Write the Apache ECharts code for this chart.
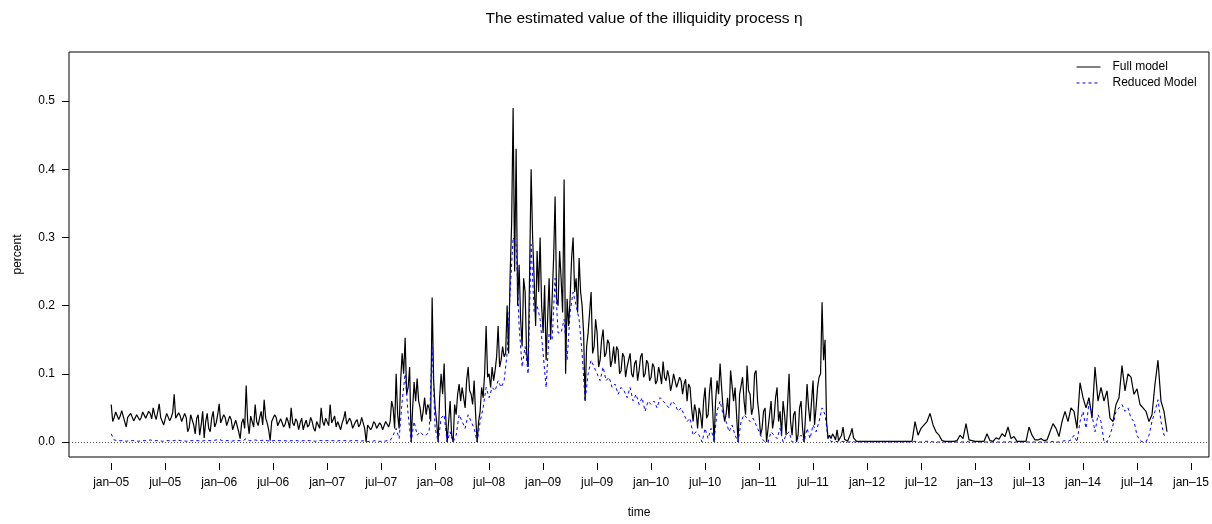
<!DOCTYPE html>
<html>
<head>
<meta charset="utf-8">
<script src="https://cdn.jsdelivr.net/npm/echarts@6/dist/echarts.min.js"></script>
<style>
html, body { margin: 0; padding: 0; background: #fff; }
#main { width: 1212px; height: 524px; }
</style>
</head>
<body>
<div id="main"></div>
<script>
// x ticks: months since jan-05
const xTickMonths = [0, 6, 12, 18, 24, 30, 36, 42, 48, 54, 60, 66, 72, 78, 84, 90, 96, 102, 108, 114, 120];
const xTickLabels = ['jan–05', 'jul–05', 'jan–06', 'jul–06', 'jan–07', 'jul–07', 'jan–08', 'jul–08', 'jan–09', 'jul–09',
  'jan–10', 'jul–10', 'jan–11', 'jul–11', 'jan–12', 'jul–12', 'jan–13', 'jul–13', 'jan–14', 'jul–14', 'jan–15'];
const yTicks = [0, 0.1, 0.2, 0.3, 0.4, 0.5];

// full model, jan-05 .. dec-11, six values a month
const fullEarly = [
  // 2005
  0.055, 0.030, 0.036, 0.044, 0.042, 0.033,  0.038, 0.046, 0.045, 0.030, 0.022, 0.036,  0.035, 0.042, 0.040, 0.031, 0.033, 0.040,
  0.041, 0.032, 0.036, 0.044, 0.045, 0.035,  0.037, 0.045, 0.042, 0.034, 0.050, 0.040,  0.033, 0.044, 0.056, 0.036, 0.038, 0.025,
  0.034, 0.042, 0.040, 0.031, 0.036, 0.043,  0.070, 0.035, 0.034, 0.043, 0.038, 0.030,  0.030, 0.042, 0.036, 0.015, 0.021, 0.040,
  0.038, 0.025, 0.012, 0.035, 0.040, 0.010,  0.025, 0.045, 0.006, 0.030, 0.042, 0.020,  0.015, 0.035, 0.045, 0.022, 0.028, 0.040,
  // 2006
  0.056, 0.028, 0.030, 0.040, 0.036, 0.024,  0.025, 0.038, 0.033, 0.018, 0.020, 0.032,  0.030, 0.015, 0.005, 0.028, 0.034, 0.020,
  0.083, 0.030, 0.012, 0.038, 0.030, 0.022,  0.055, 0.030, 0.024, 0.036, 0.045, 0.025,  0.062, 0.035, 0.028, 0.018, 0.002, 0.030,
  0.030, 0.040, 0.036, 0.024, 0.022, 0.034,  0.034, 0.022, 0.026, 0.036, 0.030, 0.020,  0.050, 0.028, 0.024, 0.034, 0.030, 0.018,
  0.028, 0.035, 0.018, 0.026, 0.032, 0.022,  0.025, 0.036, 0.030, 0.020, 0.016, 0.030,  0.028, 0.020, 0.050, 0.030, 0.024, 0.035,
  // 2007
  0.034, 0.024, 0.055, 0.028, 0.030, 0.038,  0.022, 0.030, 0.032, 0.018, 0.028, 0.034,  0.045, 0.026, 0.024, 0.035, 0.030, 0.020,
  0.020, 0.030, 0.033, 0.022, 0.026, 0.036,  0.038, 0.020, 0.000, 0.025, 0.024, 0.018,  0.022, 0.030, 0.027, 0.020, 0.018, 0.028,
  0.025, 0.018, 0.020, 0.030, 0.028, 0.022,  0.030, 0.060, 0.050, 0.020, 0.100, 0.040,  0.020, 0.090, 0.130, 0.100, 0.153, 0.070,
  0.080, 0.110, 0.000, 0.050, 0.088, 0.060,  0.093, 0.060, 0.050, 0.030, 0.045, 0.065,  0.040, 0.055, 0.050, 0.030, 0.212, 0.090,
  // 2008
  0.050, 0.030, 0.000, 0.065, 0.100, 0.070,  0.115, 0.040, 0.000, 0.030, 0.060, 0.010,  0.000, 0.055, 0.040, 0.070, 0.085, 0.060,
  0.080, 0.065, 0.050, 0.090, 0.110, 0.075,  0.070, 0.055, 0.090, 0.040, 0.000, 0.030,  0.045, 0.080, 0.065, 0.100, 0.170, 0.095,
  0.100, 0.080, 0.110, 0.090, 0.105, 0.125,  0.170, 0.110, 0.120, 0.140, 0.125, 0.130,  0.200, 0.130, 0.245, 0.320, 0.490, 0.250,
  0.430, 0.200, 0.260, 0.180, 0.140, 0.240,  0.220, 0.130, 0.110, 0.250, 0.400, 0.300,  0.240, 0.170, 0.280, 0.220, 0.300, 0.200,
  // 2009
  0.160, 0.230, 0.120, 0.180, 0.240, 0.150,  0.150, 0.270, 0.360, 0.210, 0.200, 0.280,  0.240, 0.190, 0.385, 0.100, 0.210, 0.170,
  0.210, 0.270, 0.300, 0.220, 0.240, 0.190,  0.270, 0.220, 0.200, 0.160, 0.060, 0.140,  0.160, 0.190, 0.220, 0.130, 0.140, 0.180,
  0.160, 0.110, 0.120, 0.150, 0.165, 0.125,  0.130, 0.150, 0.145, 0.110, 0.120, 0.140,  0.115, 0.140, 0.135, 0.100, 0.105, 0.130,
  0.125, 0.095, 0.110, 0.120, 0.130, 0.100,  0.095, 0.115, 0.120, 0.090, 0.105, 0.125,  0.130, 0.095, 0.100, 0.120, 0.115, 0.090,
  // 2010
  0.095, 0.115, 0.110, 0.085, 0.090, 0.110,  0.100, 0.085, 0.118, 0.095, 0.090, 0.105,  0.095, 0.075, 0.085, 0.100, 0.100, 0.080,
  0.080, 0.095, 0.090, 0.070, 0.085, 0.092,  0.060, 0.085, 0.080, 0.050, 0.030, 0.055,  0.045, 0.020, 0.050, 0.040, 0.020, 0.060,
  0.080, 0.035, 0.040, 0.075, 0.095, 0.050,  0.000, 0.060, 0.090, 0.070, 0.115, 0.080,  0.050, 0.030, 0.040, 0.065, 0.035, 0.105,
  0.105, 0.060, 0.080, 0.040, 0.000, 0.070,  0.070, 0.095, 0.060, 0.040, 0.112, 0.075,  0.070, 0.040, 0.050, 0.100, 0.105, 0.060,
  // 2011
  0.040, 0.010, 0.020, 0.045, 0.050, 0.000,  0.000, 0.040, 0.060, 0.020, 0.035, 0.065,  0.080, 0.030, 0.045, 0.010, 0.060, 0.040,
  0.010, 0.055, 0.100, 0.030, 0.010, 0.040,  0.045, 0.000, 0.010, 0.050, 0.060, 0.020,  0.000, 0.040, 0.085, 0.050, 0.030, 0.060,
  0.090, 0.025, 0.050, 0.080, 0.095, 0.100,  0.205, 0.120, 0.150, 0.030, 0.005, 0.010,  0.005, 0.012, 0.008, 0.003, 0.018, 0.002,
  0.000, 0.010, 0.022, 0.004, 0.003, 0.001,  0.001, 0.012, 0.020, 0.006, 0.005, 0.001,  0.001, 0.001, 0.001, 0.001, 0.001, 0.001
];

// full model, jan-12 .. oct-14, three values a month
const fullLate = [
  // 2012
  0.001, 0.001, 0.001,  0.001, 0.001, 0.001,  0.001, 0.001, 0.001,  0.001, 0.001, 0.001,  0.001, 0.001, 0.001,  0.001, 0.030, 0.010,
  0.020, 0.025, 0.030,  0.042, 0.025, 0.015,  0.010, 0.002, 0.001,  0.001, 0.001, 0.001,  0.002, 0.010, 0.005,  0.027, 0.003, 0.002,
  // 2013
  0.001, 0.001, 0.001,  0.001, 0.012, 0.002,  0.001, 0.006, 0.004,  0.012, 0.008, 0.022,  0.005, 0.008, 0.001,  0.001, 0.001, 0.001,
  0.022, 0.010, 0.003,  0.003, 0.005, 0.002,  0.003, 0.015, 0.027,  0.020, 0.008, 0.030,  0.045, 0.030, 0.050,  0.045, 0.020, 0.087,
  // 2014
  0.065, 0.050, 0.065,  0.035, 0.110, 0.060,  0.080, 0.060, 0.075,  0.035, 0.030, 0.055,  0.065, 0.112, 0.075,  0.100, 0.095, 0.070,
  0.078, 0.055, 0.050,  0.045, 0.030, 0.040,  0.085, 0.120, 0.060,  0.045, 0.015
];

// reduced model, jan-05 .. oct-14, three values a month
const reducedModel = [
  // 2005
  0.012, 0.003, 0.002,  0.002, 0.002, 0.001,  0.002, 0.002, 0.002,  0.001, 0.002, 0.002,  0.002, 0.003, 0.002,  0.002, 0.002, 0.001,
  0.002, 0.002, 0.002,  0.002, 0.003, 0.002,  0.002, 0.001, 0.002,  0.002, 0.002, 0.002,  0.001, 0.002, 0.002,  0.002, 0.002, 0.003,
  // 2006
  0.004, 0.002, 0.002,  0.002, 0.001, 0.002,  0.002, 0.002, 0.002,  0.005, 0.002, 0.002,  0.003, 0.002, 0.002,  0.003, 0.002, 0.001,
  0.002, 0.002, 0.002,  0.002, 0.002, 0.001,  0.002, 0.002, 0.002,  0.001, 0.002, 0.002,  0.002, 0.002, 0.001,  0.002, 0.002, 0.002,
  // 2007
  0.002, 0.002, 0.002,  0.001, 0.002, 0.002,  0.002, 0.001, 0.002,  0.002, 0.002, 0.001,  0.002, 0.000, 0.001,  0.001, 0.002, 0.001,
  0.001, 0.001, 0.002,  0.002, 0.010, 0.020,  0.005, 0.060, 0.100,  0.040, 0.000, 0.030,  0.010, 0.015, 0.010,  0.010, 0.015, 0.140,
  // 2008
  0.020, 0.000, 0.035,  0.040, 0.000, 0.015,  0.000, 0.010, 0.040,  0.030, 0.020, 0.040,  0.030, 0.020, 0.000,  0.030, 0.050, 0.080,
  0.065, 0.080, 0.075,  0.090, 0.080, 0.090,  0.130, 0.220, 0.300,  0.290, 0.170, 0.110,  0.140, 0.100, 0.290,  0.190, 0.200, 0.180,
  // 2009
  0.130, 0.080, 0.160,  0.150, 0.240, 0.160,  0.160, 0.180, 0.120,  0.190, 0.220, 0.200,  0.180, 0.130, 0.060,  0.100, 0.120, 0.110,
  0.100, 0.090, 0.110,  0.090, 0.095, 0.080,  0.085, 0.070, 0.080,  0.075, 0.065, 0.080,  0.060, 0.070, 0.055,  0.065, 0.045, 0.060,
  // 2010
  0.055, 0.060, 0.050,  0.065, 0.060, 0.055,  0.050, 0.060, 0.055,  0.045, 0.050, 0.040,  0.030, 0.035, 0.010,  0.015, 0.010, 0.000,
  0.020, 0.005, 0.020,  0.000, 0.045, 0.060,  0.040, 0.030, 0.015,  0.025, 0.010, 0.000,  0.030, 0.040, 0.035,  0.030, 0.035, 0.025,
  // 2011
  0.015, 0.005, 0.000,  0.000, 0.015, 0.010,  0.005, 0.020, 0.000,  0.010, 0.015, 0.000,  0.000, 0.005, 0.010,  0.000, 0.020, 0.005,
  0.025, 0.015, 0.030,  0.050, 0.040, 0.005,  0.001, 0.000, 0.001,  0.000, 0.001, 0.000,  0.000, 0.001, 0.000,  0.000, 0.000, 0.000,
  // 2012
  0.000, 0.000, 0.000,  0.000, 0.000, 0.000,  0.000, 0.000, 0.000,  0.000, 0.000, 0.000,  0.000, 0.000, 0.000,  0.000, 0.001, 0.000,
  0.000, 0.001, 0.001,  0.001, 0.000, 0.000,  0.000, 0.000, 0.000,  0.000, 0.000, 0.000,  0.000, 0.000, 0.000,  0.001, 0.000, 0.000,
  // 2013
  0.000, 0.000, 0.000,  0.000, 0.000, 0.000,  0.000, 0.000, 0.000,  0.000, 0.000, 0.001,  0.000, 0.000, 0.000,  0.000, 0.000, 0.000,
  0.000, 0.000, 0.000,  0.000, 0.000, 0.000,  0.000, 0.000, 0.001,  0.000, 0.000, 0.001,  0.002, 0.001, 0.003,  0.010, 0.000, 0.030,
  // 2014
  0.045, 0.020, 0.058,  0.040, 0.015, 0.040,  0.030, 0.000, 0.000,  0.010, 0.025, 0.045,  0.050, 0.055, 0.045,  0.050, 0.035, 0.030,
  0.010, 0.002, 0.000,  0.000, 0.010, 0.030,  0.045, 0.062, 0.030,  0.010, 0.010
];

// month offset and spacing of each array
function toPoints(values, startMonth, perMonth) {
  return values.map((v, i) => [startMonth + i / perMonth, v]);
}

const fullPoints = toPoints(fullEarly, 0, 6).concat(toPoints(fullLate, 84, 3));
const reducedPoints = toPoints(reducedModel, 0, 3);

const font = 'Liberation Sans, Arial, Helvetica, sans-serif';

const myChart = echarts.init(document.getElementById('main'), null, { renderer: 'canvas' });
myChart.setOption({
  animation: false,
  backgroundColor: '#fff',
  textStyle: { fontFamily: font, color: '#000' },
  title: {
    text: 'The estimated value of the illiquidity process η',
    left: 639,
    top: 6,
    textAlign: 'center',
    textStyle: { fontFamily: font, fontSize: 15.5, fontWeight: 'normal', color: '#000' }
  },
  legend: {
    data: ['Full model', 'Reduced Model'],
    orient: 'vertical',
    left: 1071,
    top: 56,
    itemWidth: 24,
    itemHeight: 10,
    itemGap: 4,
    itemStyle: { opacity: 0 },
    lineStyle: { width: 1 },
    textStyle: { fontFamily: font, fontSize: 12, color: '#000', padding: [0, 0, 0, 7] }
  },
  grid: {
    show: true,
    left: 69,
    right: 3,
    top: 52,
    bottom: 60,
    borderColor: '#000',
    borderWidth: 1,
    backgroundColor: 'transparent'
  },
  xAxis: {
    type: 'value',
    min: -4.69,
    max: 122.0,
    offset: 6,
    name: 'time',
    nameLocation: 'middle',
    nameGap: 44,
    nameTextStyle: { fontFamily: font, fontSize: 12, color: '#000' },
    axisLine: { show: false, onZero: false },
    axisTick: { show: true, length: 7, customValues: xTickMonths, lineStyle: { color: '#000' } },
    axisLabel: {
      customValues: xTickMonths,
      margin: 14,
      fontSize: 12,
      color: '#000',
      fontFamily: font,
      formatter: v => xTickLabels[xTickMonths.indexOf(Math.round(v))]
    },
    splitLine: { show: false }
  },
  yAxis: {
    type: 'value',
    min: -0.022,
    max: 0.572,
    name: 'percent',
    nameLocation: 'middle',
    nameRotate: 90,
    nameGap: 45,
    nameTextStyle: { fontFamily: font, fontSize: 12, color: '#000' },
    axisLine: { show: false, onZero: false },
    axisTick: { show: true, length: 7, customValues: yTicks, lineStyle: { color: '#000' } },
    axisLabel: {
      customValues: yTicks,
      margin: 14,
      fontSize: 12,
      color: '#000',
      fontFamily: font,
      formatter: v => v.toFixed(1)
    },
    splitLine: { show: false }
  },
  series: [
    {
      name: 'Full model',
      type: 'line',
      data: fullPoints,
      symbol: 'none',
      showSymbol: false,
      color: '#000',
      lineStyle: { color: '#000', width: 1.2 },
      markLine: {
        silent: true,
        symbol: ['none', 'none'],
        label: { show: false },
        lineStyle: { color: '#555', width: 1, type: [1, 2] },
        data: [{ yAxis: 0 }]
      },
      z: 2
    },
    {
      name: 'Reduced Model',
      type: 'line',
      data: reducedPoints,
      symbol: 'none',
      showSymbol: false,
      color: '#0000ff',
      lineStyle: { color: '#0000ff', width: 1, type: [3, 3] },
      z: 3
    }
  ]
});
</script>
</body>
</html>
